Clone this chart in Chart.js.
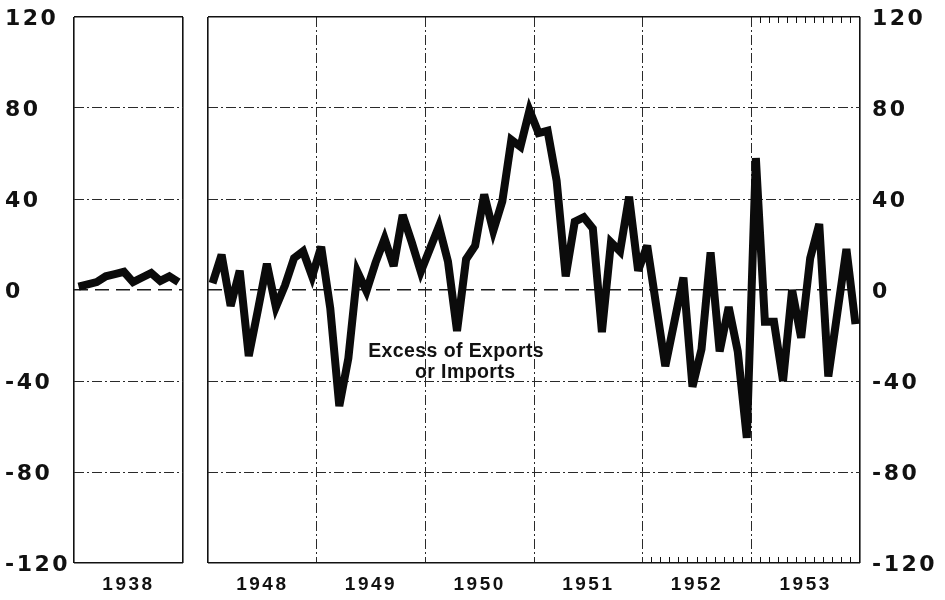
<!DOCTYPE html>
<html>
<head>
<meta charset="utf-8">
<script src="https://cdn.jsdelivr.net/npm/chart.js@4/dist/chart.umd.min.js"></script>
<style>
  html, body { margin: 0; padding: 0; background: #ffffff; }
  #wrap { position: relative; width: 945px; height: 600px; overflow: hidden; background: #fff; }
  #cA { position: absolute; left: 0; top: 0; }
  #cB { position: absolute; left: 190px; top: 0; }
</style>
</head>
<body>
<div id="wrap">
  <canvas id="cA" width="190" height="600"></canvas>
  <canvas id="cB" width="755" height="600"></canvas>
</div>
<script>
// ---------------- data ----------------
const yTickValues = [-120, -80, -40, 0, 40, 80, 120];
const yFrame = [-120, 120];
const yInnerGrid = [-80, -40, 40, 80];
const yZeroLine = [0];

const panel1938Labels = ['1938'];
const panel1938Values = [1.5, 2.5, 3.5, 6, 7, 8, 3.5, 5.5, 7.5, 4, 6, 3.5];

const yearLabels = ['1948', '1949', '1950', '1951', '1952', '1953'];
const monthlyValues = [
  3, 15.5, -7, 8.5, -29, -9, 11.5, -7.5, 2, 14, 17, 6,          // 1948
  19, -8, -51, -30, 8, -0.5, 12, 22.5, 10.5, 33, 21, 8,         // 1949
  18, 28, 12.5, -18, 13.5, 19.5, 42, 26, 39, 66, 63, 79,        // 1950
  69, 70, 48, 6, 30, 32, 27, -18.5, 21, 17, 41, 8.5,            // 1951
  19.5, -7, -33.5, -14, 5.5, -42.5, -26, 16.5, -27, -7.5, -27, -65, // 1952
  58, -14, -14, -40, 0, -21, 14, 29, -38, -10, 18, -15          // 1953
];

const noteLines = ['Excess of Exports', 'or Imports'];

// ---------------- helpers ----------------
const fontY = { family: '"DejaVu Sans", sans-serif', weight: 'bold', size: 22 };
const fontX = { family: '"Liberation Sans", Arial, sans-serif', weight: 'bold', size: 19 };
const INK = '#111111';

const setTicks = (vals) => (scale) => { scale.ticks = vals.map(v => ({ value: v })); };
const fixW = (w) => (s) => { s.width = w; };
const fixH = (h) => (s) => { s.height = h; };
const range = (a, b) => { const r = []; for (let i = a; i <= b; i++) r.push(i); return r; };

function gridAxis(position, min, max, vals, color, width, dash) {
  const horiz = position === 'top' || position === 'bottom';
  return {
    type: 'linear', position, min, max, weight: 0,
    ticks: { display: false },
    grid: { display: true, drawTicks: false, drawOnChartArea: true, color, lineWidth: width },
    border: { display: false, dash: dash },
    afterBuildTicks: setTicks(vals),
    afterFit: horiz ? fixH(0) : fixW(0)
  };
}

function tickMarkAxis(position, min, max, vals) {
  return {
    type: 'linear', position, min, max, weight: 0,
    ticks: { display: false },
    grid: { display: true, drawOnChartArea: false, drawTicks: true, tickLength: -6, tickColor: INK, tickWidth: 1 },
    border: { display: false },
    afterBuildTicks: setTicks(vals),
    afterFit: fixH(0)
  };
}

const spacingPlugin = {
  id: 'spacing',
  beforeDraw(chart) { chart.ctx.letterSpacing = '2.5px'; },
  beforeDatasetsDraw(chart) { chart.ctx.miterLimit = 4; },
  afterDraw(chart) { chart.ctx.letterSpacing = '0px'; }
};

function buildScales(nMonths, labels, yPos, yWidth, tickGap, cross, extra) {
  const centers = labels.map((_, i) => 6 + 12 * i);
  const inner = range(1, labels.length - 1).map(i => 12 * i);
  const scales = {
    x: {
      type: 'linear', position: 'bottom', min: 0, max: nMonths, weight: 10,
      grid: { display: false }, border: { display: false },
      ticks: {
        autoSkip: false, maxRotation: 0, padding: 2, color: INK, font: fontX,
        callback: (v, i) => labels[i]
      },
      afterBuildTicks: setTicks(centers),
      afterFit: fixH(37)
    },
    y: {
      type: 'linear', position: yPos, min: -120, max: 120, weight: 10,
      grid: {
        display: tickGap > 0, drawOnChartArea: false, drawTicks: tickGap > 0,
        tickLength: tickGap, tickColor: 'rgba(0,0,0,0)'
      },
      border: { display: false },
      ticks: { padding: 0, labelOffset: 2.5, crossAlign: cross, color: INK, font: fontY, callback: v => String(v) },
      afterBuildTicks: setTicks(yTickValues),
      afterFit: fixW(yWidth)
    },
    xFrame: gridAxis('bottom', 0, nMonths, [0, nMonths], INK, 1.6, []),
    xInner: gridAxis('bottom', 0, nMonths, inner, '#2a2a2a', 1, [10, 3, 2, 3]),
    yFrameAx: gridAxis(yPos, -120, 120, yFrame, INK, 1.6, []),
    yInner: gridAxis(yPos, -120, 120, yInnerGrid, '#2a2a2a', 1, [10, 3, 2, 3]),
    yZero: gridAxis(yPos, -120, 120, yZeroLine, '#1a1a1a', 1.5, [14, 7])
  };
  return Object.assign(scales, extra || {});
}

function lineDataset(vals) {
  return {
    data: vals.map((v, i) => ({ x: i + 0.5, y: v })),
    borderColor: '#0b0b0b', borderWidth: 8, pointRadius: 0, tension: 0,
    fill: false, borderJoinStyle: 'miter', borderCapStyle: 'butt',
    xAxisID: 'x', yAxisID: 'y'
  };
}

const commonPlugins = { legend: { display: false }, tooltip: { enabled: false } };

// ---------------- 1938 panel ----------------
new Chart(document.getElementById('cA'), {
  type: 'line',
  data: { datasets: [lineDataset(panel1938Values)] },
  options: {
    responsive: false, animation: false, events: [],
    layout: { padding: { left: 5, right: 7, top: 17, bottom: 0 } },
    plugins: commonPlugins,
    scales: buildScales(12, panel1938Labels, 'left', 69, 0, 'far')
  },
  plugins: [spacingPlugin]
});

// ---------------- 1948-1953 panel ----------------
const notePlugin = {
  id: 'note',
  afterDraw(chart) {
    const { ctx } = chart;
    const xs = chart.scales.x, ys = chart.scales.y;
    ctx.save();
    ctx.letterSpacing = '0.4px';
    ctx.font = 'bold 19.5px "Liberation Sans", Arial, sans-serif';
    ctx.fillStyle = INK;
    ctx.textAlign = 'center';
    ctx.textBaseline = 'alphabetic';
    ctx.fillText(noteLines[0], xs.getPixelForValue(27.4), ys.getPixelForValue(-29.5));
    ctx.fillText(noteLines[1], xs.getPixelForValue(28.4), ys.getPixelForValue(-38.5));
    ctx.restore();
  }
};

new Chart(document.getElementById('cB'), {
  type: 'line',
  data: { datasets: [lineDataset(monthlyValues)] },
  options: {
    responsive: false, animation: false, events: [],
    layout: { padding: { left: 18, right: 0, top: 17, bottom: 0 } },
    plugins: commonPlugins,
    scales: buildScales(72, yearLabels, 'right', 85, 12, 'near', {
      xTicksBottom: tickMarkAxis('bottom', 0, 72, range(49, 71)),
      xTicksTop: tickMarkAxis('top', 0, 72, range(61, 71))
    })
  },
  plugins: [spacingPlugin, notePlugin]
});
</script>
</body>
</html>
